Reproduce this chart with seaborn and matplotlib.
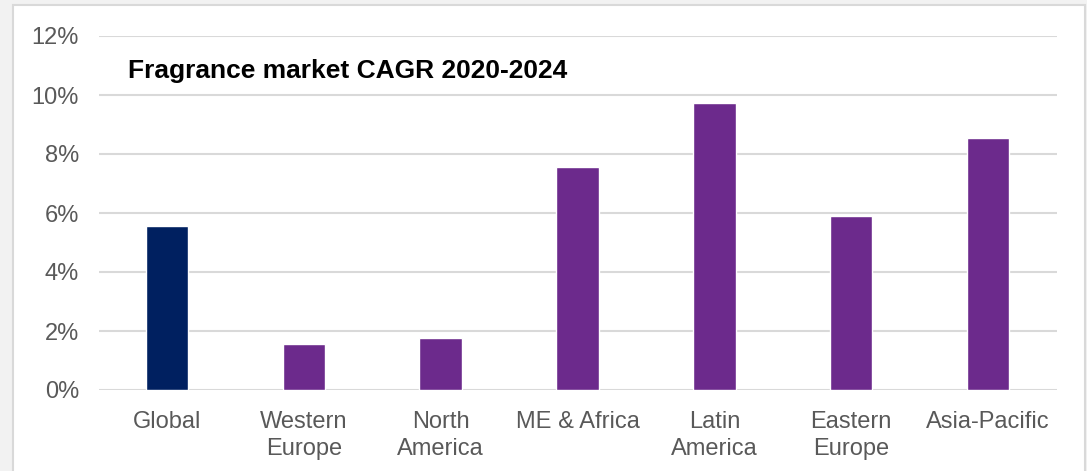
import matplotlib
matplotlib.use("Agg")
import matplotlib.pyplot as plt
from matplotlib.patches import Rectangle
from matplotlib.ticker import FuncFormatter
import seaborn as sns
import pandas as pd

# Fragrance market compound annual growth, 2020-2024 (percent)
regions = ["Global", "Western\nEurope", "North\nAmerica", "ME & Africa",
           "Latin\nAmerica", "Eastern\nEurope", "Asia-Pacific"]
cagr_pct = [5.56, 1.56, 1.75, 7.56, 9.72, 5.90, 8.54]
y_ticks = [0, 2, 4, 6, 8, 10, 12]

NAVY = "#002060"
PURPLE = "#6C2A8C"
bar_colors = [NAVY] + [PURPLE] * (len(regions) - 1)

sns.set_theme(style="white")
plt.rcParams["font.family"] = ["Liberation Sans", "DejaVu Sans"]

df = pd.DataFrame({"region": regions, "cagr": cagr_pct})

W, H, DPI = 1087, 471, 100
fig = plt.figure(figsize=(W / DPI, H / DPI), dpi=DPI, facecolor="#f2f2f2")

# white panel with a thin grey border (open at the bottom)
panel = Rectangle((13 / W, -0.05), (1085 - 13) / W, 1.05 - 5 / H,
                  transform=fig.transFigure, facecolor="white",
                  edgecolor="#d9d9d9", linewidth=1.5, zorder=-10)
fig.add_artist(panel)

ax = fig.add_axes([98.5 / W, (H - 390) / H, (1056.5 - 98.5) / W, (390 - 36) / H])
ax.set_zorder(5)
ax.set_facecolor("none")

sns.barplot(data=df, x="region", y="cagr", hue="region", palette=bar_colors,
            width=0.31, legend=False, saturation=1, ax=ax, zorder=3)

ax.set_ylim(0, 12)
ax.set_yticks(y_ticks)
ax.yaxis.set_major_formatter(FuncFormatter(lambda v, _: f"{v:.0f}%"))
ax.set_xlim(-0.5, len(regions) - 0.5)
ax.grid(axis="y", color="#d9d9d9", linewidth=1.5, zorder=0)
ax.grid(axis="x", visible=False)
ax.set_axisbelow(True)
for s in ax.spines.values():
    s.set_visible(False)

ax.set_xlabel("")
ax.set_ylabel("")
ax.tick_params(axis="y", length=0, pad=14, labelsize=17, labelcolor="#595959")
ax.tick_params(axis="x", length=0, pad=15, labelsize=17, labelcolor="#595959")
for lbl in ax.get_xticklabels():
    lbl.set_linespacing(1.3)

fig.text(128 / W, (H - 78) / H, "Fragrance market CAGR 2020-2024",
         fontsize=19, fontweight="bold", color="black", ha="left", va="baseline",
         zorder=10)

fig.savefig("out.png", dpi=DPI, facecolor=fig.get_facecolor())
